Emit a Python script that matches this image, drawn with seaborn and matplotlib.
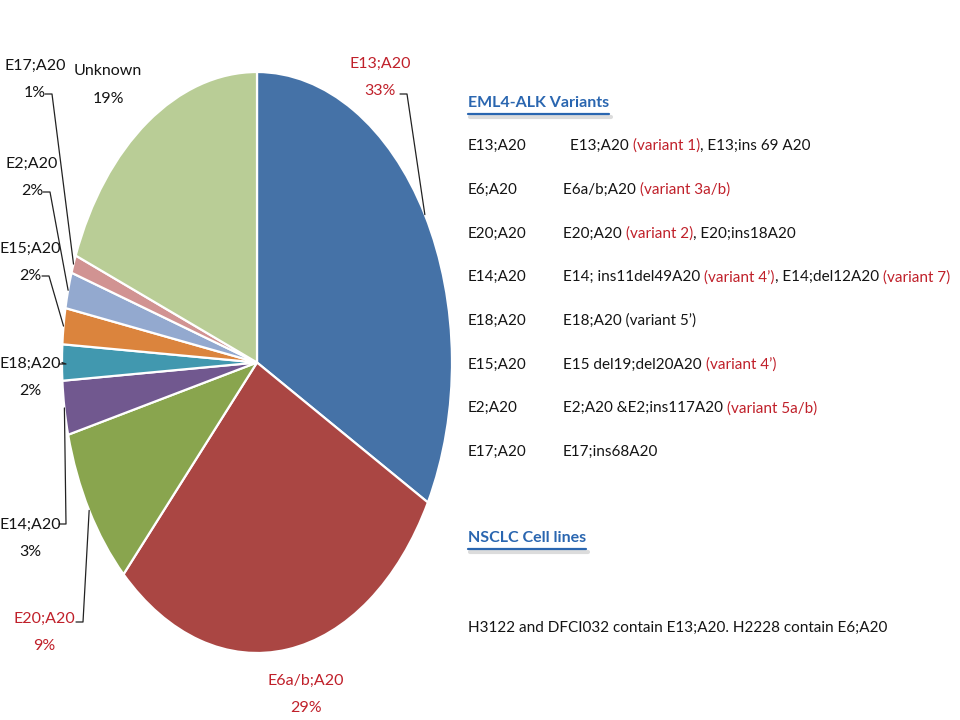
import numpy as np
import matplotlib
matplotlib.use("Agg")
import matplotlib.pyplot as plt
import seaborn as sns
from matplotlib.lines import Line2D

# ---------------- data ----------------
categories = ["E13;A20", "E6a/b;A20", "E20;A20", "E14;A20", "E18;A20",
              "E15;A20", "E2;A20", "E17;A20", "Unknown"]
shares = [33, 29, 9, 3, 2, 2, 2, 1, 19]
slice_colors = ["#4572A7", "#AA4643", "#89A54E", "#71588F", "#4198AF",
                "#DB843D", "#93A9CF", "#D19392", "#B9CD96"]
highlight = ["E13;A20", "E6a/b;A20", "E20;A20"]

variant_labels = ["E13;A20", "E6;A20", "E20;A20", "E14;A20", "E18;A20",
                  "E15;A20", "E2;A20", "E17;A20"]
K, R = "#141414", "#C0202A"
variant_details = [
    [("E13;A20 ", K), ("(variant 1)", R), (", E13;ins 69 A20", K)],
    [("E6a/b;A20 ", K), ("(variant 3a/b)", R)],
    [("E20;A20 ", K), ("(variant 2)", R), (", E20;ins18A20", K)],
    [("E14; ins11del49A20 ", K), ("(variant 4\u2019)", R), (", E14;del12A20 ", K), ("(variant 7)", R)],
    [("E18;A20 (variant 5\u2019)", K)],
    [("E15 del19;del20A20 ", K), ("(variant 4\u2019)", R)],
    [("E2;A20 &E2;ins117A20 ", K), ("(variant 5a/b)", R)],
    [("E17;ins68A20", K)],
]
heading1 = "EML4-ALK Variants"
heading2 = "NSCLC Cell lines"
cell_note = "H3122 and DFCI032 contain E13;A20. H2228 contain E6;A20"

# ---------------- layout (pixels from top-left) ----------------
W, H = 960, 720
label_pos = {
    "E13;A20": ((380, 77), (400, 94)),
    "E6a/b;A20": ((306, 694), None),
    "E20;A20": ((44, 632), (76, 622)),
    "E14;A20": ((30, 538), (59, 524)),
    "E18;A20": ((30, 377), (59, 364)),
    "E15;A20": ((30, 262), (42, 276)),
    "E2;A20": ((32, 177), (43, 192)),
    "E17;A20": ((35, 79), (45, 94)),
    "Unknown": ((108, 85), None),
}

sns.set_theme(style="white")
plt.rcParams["font.family"] = ["Lato", "DejaVu Sans"]
FS = 11
LFS = 11.5

fig = plt.figure(figsize=(9.6, 7.2), dpi=100)
fig.patch.set_facecolor("white")

def fx(px):
    return px / W

def fy(py):
    return 1 - py / H

pl, pt, pr, pb = 62, 72, 452, 653
ax = fig.add_axes([fx(pl), fy(pb), (pr - pl) / W, (pb - pt) / H])
palette = sns.color_palette(slice_colors)
wedges, _ = ax.pie(shares, colors=palette, startangle=90, counterclock=False,
                   radius=1, center=(0, 0),
                   wedgeprops=dict(edgecolor="white", linewidth=1.6))
ax.set_aspect("auto")
ax.set_xlim(-1, 1)
ax.set_ylim(-1, 1)
ax.axis("off")

fig.canvas.draw()
to_fig = fig.transFigure.inverted()

for cat, share, w in zip(categories, shares, wedges):
    (cx, cy), stub = label_pos[cat]
    col = R if cat in highlight else K
    fig.text(fx(cx), fy(cy), f"{cat}\n{share}%", ha="center", va="center",
             fontsize=LFS, color=col, linespacing=2.2)
    if stub is not None:
        ang = np.deg2rad((w.theta1 + w.theta2) / 2)
        disp = ax.transData.transform((np.cos(ang), np.sin(ang)))
        ex, ey = to_fig.transform(disp)
        sx, sy = stub
        xs = [fx(sx), fx(sx + 7), ex]
        ys = [fy(sy), fy(sy), ey]
        fig.add_artist(Line2D(xs, ys, transform=fig.transFigure,
                              color="#222222", linewidth=0.9))

renderer = fig.canvas.get_renderer()

def draw_segments(x_px, y_px, segs, size=FS):
    x = fx(x_px)
    for txt, col in segs:
        t = fig.text(x, fy(y_px), txt, ha="left", va="center",
                     fontsize=size, color=col)
        bb = t.get_window_extent(renderer)
        x += bb.width / W

def heading(x_px, y_px, txt):
    t = fig.text(fx(x_px), fy(y_px), txt, ha="left", va="center",
                 fontsize=FS + 0.5, fontweight="bold", color="#2A66B0")
    bb = t.get_window_extent(renderer)
    x0, x1 = fx(x_px), fx(x_px) + bb.width / W
    fig.add_artist(Line2D([x0 + 0.002, x1 + 0.002],
                          [fy(y_px + 14), fy(y_px + 14)],
                          transform=fig.transFigure, color="#dcdcdc",
                          linewidth=3.0, solid_capstyle="round"))
    fig.add_artist(Line2D([x0, x1], [fy(y_px + 11), fy(y_px + 11)],
                          transform=fig.transFigure, color="#2A66B0",
                          linewidth=1.6))

heading(468, 103, heading1)
row_y0, row_dy = 146, 43.7
for i, (lab, segs) in enumerate(zip(variant_labels, variant_details)):
    y = row_y0 + i * row_dy
    fig.text(fx(468), fy(y), lab, ha="left", va="center", fontsize=FS, color=K)
    draw_segments(570 if i == 0 else 563, y, segs)

heading(468, 538, heading2)
fig.text(fx(468), fy(628), cell_note, ha="left", va="center", fontsize=FS, color=K)

fig.savefig("out.png", dpi=100, facecolor="white")
